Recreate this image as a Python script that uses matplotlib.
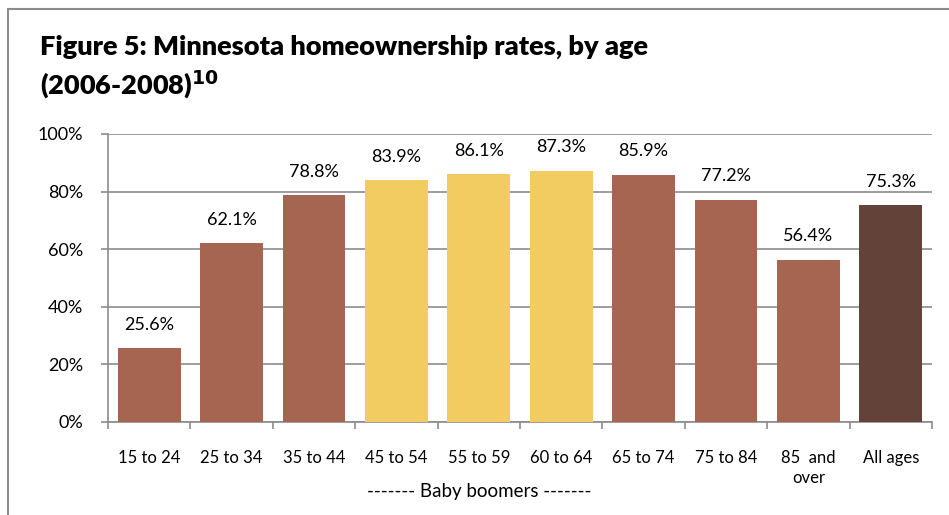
import numpy as np
import matplotlib.pyplot as plt
from matplotlib.patches import Rectangle

age_groups = ["15 to 24", "25 to 34", "35 to 44", "45 to 54", "55 to 59",
              "60 to 64", "65 to 74", "75 to 84", "85  and\nover", "All ages"]
rates = [25.6, 62.1, 78.8, 83.9, 86.1, 87.3, 85.9, 77.2, 56.4, 75.3]
group = ["other", "other", "other", "boomer", "boomer", "boomer",
         "other", "other", "other", "total"]

colors = {"other": "#A66550", "boomer": "#F2CC60", "total": "#634239"}
grid_c = "#8C8C8C"

plt.rcParams['font.family'] = ['Lato', 'DejaVu Sans']

W, H = 949, 515
fig = plt.figure(figsize=(W / 100, H / 100), dpi=100)

# outer chart frame (runs off the right and bottom edges)
fig.patches.append(Rectangle((8 / W, -0.1), 1.2, 1.1 - 9 / H,
                             transform=fig.transFigure, fill=False,
                             edgecolor=grid_c, linewidth=1.5))

fig.text(40 / W, 1 - 47 / H, "Figure 5: Minnesota homeownership rates, by age",
         fontsize=19.5, fontweight="heavy", va="center", ha="left")
fig.text(40 / W, 1 - 85 / H, r"(2006-2008)$^{\mathbf{10}}$",
         fontsize=19.5, fontweight="heavy", va="center", ha="left")

ax = fig.add_axes([108 / W, (H - 422) / H, (932 - 108) / W, (422 - 134) / H])
x = np.arange(len(rates))
ax.bar(x, rates, width=0.76, color=[colors[g] for g in group], zorder=3)

for xi, v in zip(x, rates):
    ax.annotate(f"{v:.1f}%", (xi, v), xytext=(0, 11), textcoords="offset points",
                ha="center", va="bottom", fontsize=13)

ax.set_xlim(-0.5, len(rates) - 0.5)
ax.set_ylim(0, 100)
ax.set_yticks(np.arange(0, 101, 20))
ax.set_yticklabels([f"{t}%" for t in range(0, 101, 20)], fontsize=13)
ax.yaxis.grid(True, color=grid_c, linewidth=1.2, zorder=0)

ax.set_xticks(np.arange(-0.5, len(rates), 1))
ax.set_xticklabels([])
ax.set_xticks(x, minor=True)
ax.set_xticklabels(age_groups, minor=True, fontsize=12, va="top", linespacing=1.3)
ax.tick_params(axis="x", which="minor", length=0, pad=20)
ax.tick_params(axis="x", which="major", length=5, color=grid_c, width=1.2)
ax.tick_params(axis="y", length=5, color=grid_c, width=1.2, pad=13)

for s in ["top", "right"]:
    ax.spines[s].set_visible(False)
for s in ["left", "bottom"]:
    ax.spines[s].set_color(grid_c)
    ax.spines[s].set_linewidth(1.2)

ax.text(4.0, -24.3, "------- Baby boomers -------", ha="center", va="center",
        fontsize=13.5, transform=ax.transData, clip_on=False)

fig.savefig("out.png", dpi=100)
